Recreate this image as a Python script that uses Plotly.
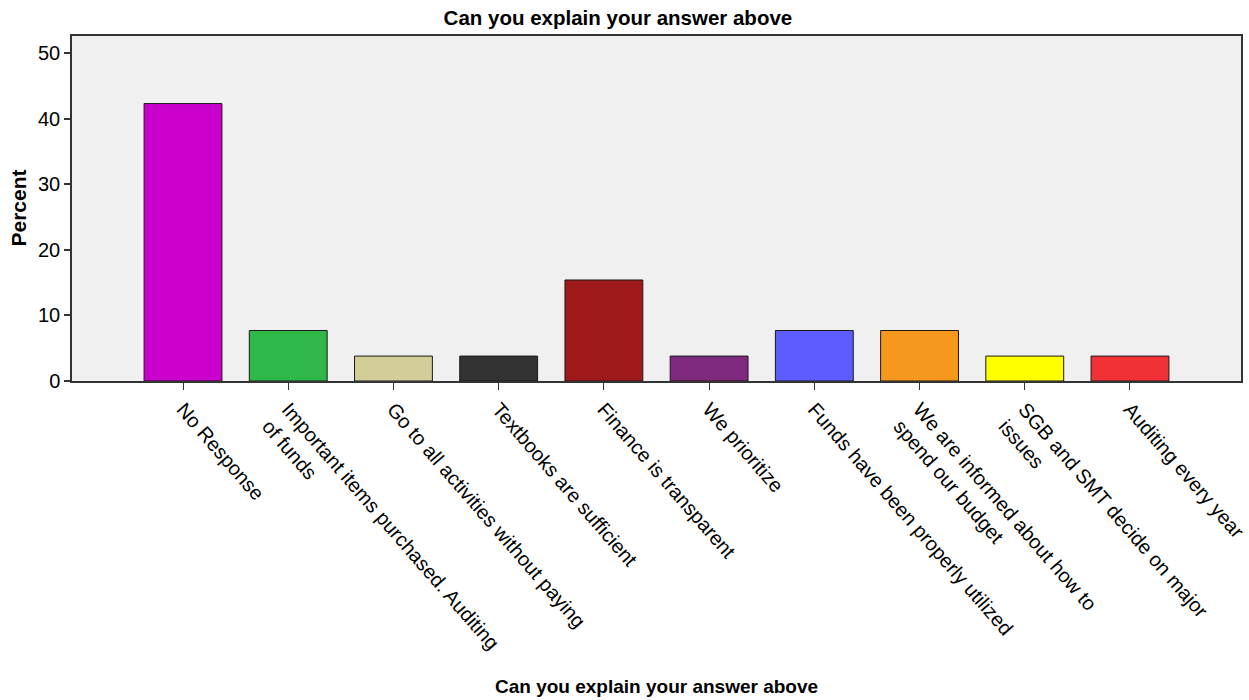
import plotly.graph_objects as go

# Survey responses: "Can you explain your answer above"
categories = [
    "No Response",
    "Important items purchased. Auditing<br>of funds",
    "Go to all activities without paying",
    "Textbooks are sufficient",
    "Finance is transparent",
    "We prioritize",
    "Funds have been properly utilized",
    "We are informed about how to<br>spend our budget",
    "SGB and SMT decide on major<br>issues",
    "Auditing every year",
]
percent = [42.3, 7.7, 3.8, 3.8, 15.4, 3.8, 7.7, 7.7, 3.8, 3.8]
bar_colors = [
    "#cc00cc", "#2eb84a", "#d3cd97", "#333333", "#9e1a1a",
    "#7f2a7f", "#5c5cff", "#f7981e", "#ffff00", "#f03237",
]
y_ticks = [0, 10, 20, 30, 40, 50]

FONT = "Liberation Sans, Arial, sans-serif"
W, H = 1249, 700

fig = go.Figure(
    go.Bar(
        x=list(range(len(categories))),
        y=percent,
        marker=dict(color=bar_colors, line=dict(color="#1a1a1a", width=1)),
        width=0.74,
    )
)

fig.update_layout(
    width=W,
    height=H,
    margin=dict(l=72, r=8, t=36, b=319),
    paper_bgcolor="white",
    plot_bgcolor="#f0f0f0",
    showlegend=False,
    font=dict(family=FONT, size=19, color="black"),
    title=dict(
        text="<b>Can you explain your answer above</b>",
        x=0.467, xanchor="center", xref="paper",
        y=1 - 18 / H, yanchor="middle",
        font=dict(size=20.5),
    ),
    annotations=[
        dict(
            text="<b>Can you explain your answer above</b>",
            xref="paper", yref="paper",
            x=0.5, y=-(686 - 381) / (381 - 36),
            xanchor="center", yanchor="middle",
            showarrow=False, font=dict(size=19),
        ),
        dict(
            text="<b>Percent</b>",
            xref="paper", yref="paper",
            x=-(72 - 18) / (1241 - 72), y=0.5,
            xanchor="center", yanchor="middle",
            textangle=-90,
            showarrow=False, font=dict(size=21),
        ),
    ],
)

fig.update_xaxes(
    range=[-1.055, len(categories) - 1 + 1.055],
    tickmode="array",
    tickvals=list(range(len(categories))),
    ticktext=categories,
    tickangle=49,
    ticks="outside",
    ticklen=7,
    tickwidth=1,
    tickcolor="#333333",
    showline=True,
    linecolor="#333333",
    linewidth=1.5,
    mirror=True,
    showgrid=False,
    zeroline=False,
    tickfont=dict(size=20),
    ticklabeloverflow="allow",
    automargin=False,
)

fig.update_yaxes(
    range=[0, 52.6],
    tickmode="array",
    tickvals=y_ticks,
    ticks="outside",
    ticklen=6,
    tickwidth=1.5,
    tickcolor="#333333",
    showline=True,
    linecolor="#333333",
    linewidth=1.5,
    mirror=True,
    showgrid=False,
    zeroline=False,
    tickfont=dict(size=20),
    automargin=False,
)

fig.write_html("out.html")
